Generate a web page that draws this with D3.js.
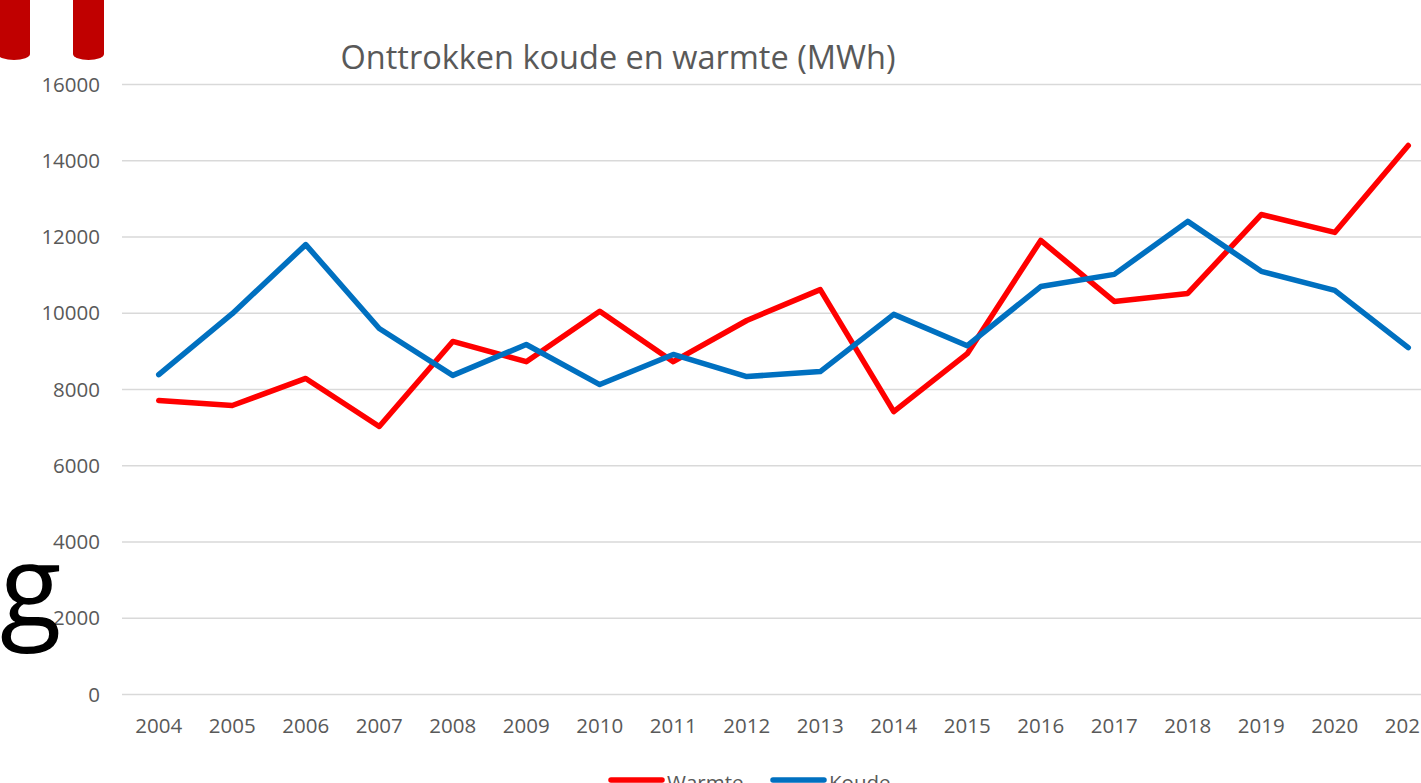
<!DOCTYPE html>
<html>
<head>
<meta charset="utf-8">
<script src="https://cdnjs.cloudflare.com/ajax/libs/d3/7.8.5/d3.min.js"></script>
<style>
  body { margin: 0; background: #fff; }
  svg { display: block; }
</style>
</head>
<body>
<div id="chart"></div>
<script>
// data
var years = ["2004", "2005", "2006", "2007", "2008", "2009", "2010", "2011", "2012",
  "2013", "2014", "2015", "2016", "2017", "2018", "2019", "2020", "2021"];
var warmte = [7710, 7580, 8290, 7030, 9260, 8730, 10050, 8730, 9810,
  10620, 7420, 8940, 11910, 10310, 10520, 12590, 12120, 14400];
var koude = [8390, 9990, 11800, 9600, 8370, 9180, 8130, 8920, 8340,
  8470, 9970, 9150, 10700, 11020, 12410, 11100, 10600, 9100];
var yTicks = [0, 2000, 4000, 6000, 8000, 10000, 12000, 14000, 16000];

var svgWidth = 1421;
var svgHeight = 783;

var margin = { top: 84.5, left: 122 };
var bandW = 73.5;
var width = bandW * years.length;
var height = 610;

var svg = d3.select("#chart")
  .append("svg")
  .attr("width", svgWidth)
  .attr("height", svgHeight)
  .style("font-family", "'Open Sans', sans-serif");

// decorative bits from the slide behind the chart
var deco = svg.append("g").attr("fill", "#C00000");
[[-2, 30], [73, 104]].forEach(function(b) {
  var x0 = b[0], x1 = b[1], r = (x1 - x0) / 2;
  deco.append("path")
    .attr("d", `M${x0},0 L${x0},54 A${r},6 0 0 0 ${x1},54 L${x1},0 Z`);
});

var chartGroup = svg.append("g")
  .attr("transform", `translate(${margin.left}, ${margin.top})`);

var xScale = d3.scaleBand()
  .domain(years)
  .range([0, width]);

var yScale = d3.scaleLinear()
  .domain([0, 16000])
  .range([height, 0]);

// gridlines
chartGroup.append("g")
  .selectAll("line")
  .data(yTicks)
  .enter()
  .append("line")
  .attr("x1", 0)
  .attr("x2", width)
  .attr("y1", d => yScale(d))
  .attr("y2", d => yScale(d))
  .attr("stroke", "#D9D9D9")
  .attr("stroke-width", 1.5);

// y axis labels
var leftAxis = d3.axisLeft(yScale)
  .tickValues(yTicks)
  .tickFormat(d3.format("d"))
  .tickSize(0)
  .tickPadding(22);
var yAxis = chartGroup.append("g").call(leftAxis);
yAxis.select(".domain").remove();
yAxis.selectAll("text")
  .attr("font-family", "'Open Sans', sans-serif")
  .attr("font-size", 20.5)
  .attr("fill", "#595959");

// x axis labels
var bottomAxis = d3.axisBottom(xScale).tickSize(0).tickPadding(24);
var xAxis = chartGroup.append("g")
  .attr("transform", `translate(0, ${height})`)
  .call(bottomAxis);
xAxis.select(".domain").remove();
xAxis.selectAll("text")
  .attr("font-family", "'Open Sans', sans-serif")
  .attr("font-size", 20.5)
  .attr("fill", "#595959");

// lines
var line = d3.line()
  .x((d, i) => xScale(years[i]) + xScale.bandwidth() / 2)
  .y(d => yScale(d));

var series = [
  { name: "Warmte", values: warmte, color: "#FF0000" },
  { name: "Koude", values: koude, color: "#0070C0" }
];

series.forEach(function(s) {
  chartGroup.append("path")
    .datum(s.values)
    .attr("d", line)
    .attr("fill", "none")
    .attr("stroke", s.color)
    .attr("stroke-width", 5.5)
    .attr("stroke-linejoin", "round")
    .attr("stroke-linecap", "round");
});

// title
svg.append("text")
  .attr("x", 618)
  .attr("y", 69)
  .attr("text-anchor", "middle")
  .attr("font-size", 32.5)
  .attr("fill", "#595959")
  .text("Onttrokken koude en warmte (MWh)");

// legend
var legend = svg.append("g");
var legendX = [609, 771];
series.forEach(function(s, i) {
  legend.append("line")
    .attr("x1", legendX[i] + 2)
    .attr("x2", legendX[i] + 53)
    .attr("y1", 780)
    .attr("y2", 780)
    .attr("stroke", s.color)
    .attr("stroke-width", 5.5)
    .attr("stroke-linecap", "round");
  legend.append("text")
    .attr("x", legendX[i] + 58)
    .attr("y", 790)
    .attr("font-size", 20.5)
    .attr("fill", "#595959")
    .text(s.name);
});

// big letter on the left edge of the slide
svg.append("text")
  .attr("x", 0)
  .attr("y", 627)
  .attr("font-size", 113)
  .attr("fill", "#000")
  .text("g");
</script>
</body>
</html>
